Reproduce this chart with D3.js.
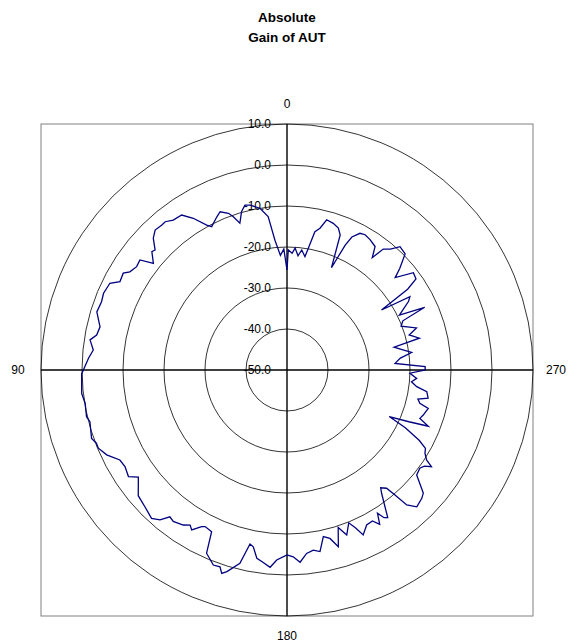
<!DOCTYPE html>
<meta charset="utf-8">
<script src="https://d3js.org/d3.v7.min.js"></script>
<style>
  body { margin: 0; background: #fff; }
  text { font-family: "Liberation Sans", Arial, sans-serif; }
</style>
<div id="page"></div>
<script>

  // Measured angle (deg, counter-clockwise from top) and gain (dB)
  var angleDeg = [
    0, 1.5, 3.3, 5.3, 7, 9.5, 12.6, 14.3, 16, 17.8,
    19.3, 20.5, 22.9, 24.6, 27.7, 29, 31.7, 34.2, 37.2, 39.4,
    40.8, 43.3, 45.4, 47.7, 48.8, 51.4, 53.2, 55.5, 58, 59.4,
    62.1, 63.9, 67.3, 69.8, 73, 77, 79.6, 81.3, 84.1, 86.6,
    89, 91.1, 96.5, 99.4, 103.1, 104.7, 109.3, 111, 112.5, 115.2,
    118.3, 120.8, 123.9, 125.8, 130.2, 133.9, 137.6, 139.7, 141.4, 143.1,
    146.2, 148, 149.2, 151.4, 152.4, 155, 156.3, 159.3, 161.2, 162.2,
    163.4, 166.3, 168, 169.2, 170.9, 172.5, 175.1, 176.9, 180, 181.9,
    183.9, 186.1, 188.3, 190.3, 192.3, 194.3, 196.2, 198, 199.9, 202,
    203.5, 204.8, 207.2, 209.5, 211, 212.3, 213.3, 214.3, 217.5, 218.5,
    220.1, 220.8, 221.6, 223.5, 226.4, 227.9, 231, 233.5, 235, 236.2,
    237.2, 238.9, 240.5, 242, 244, 245.5, 247, 248.3, 250, 251.7,
    254.8, 255.9, 257.5, 258.7, 261.2, 262.7, 264.6, 266.3, 268.5, 270,
    271.4, 273.5, 276, 278, 280, 282, 283.5, 286, 288, 291,
    293, 294.5, 296, 299.4, 300.8, 302.4, 303.8, 305.2, 307.6, 310.5,
    312, 314.5, 317.5, 319.5, 321.5, 322.8, 324.5, 327.5, 330, 331.9,
    334, 335, 335.7, 336.5, 338.5, 340.1, 342.5, 345.2, 346.9, 348.6,
    350.1, 351, 353, 354.5, 356.2, 357.5, 359.4
  ];
  var gainDb = [
    -25.6, -20.5, -22, -18.2, -12.3, -10, -8.8, -8.5, -9.8, -12.4,
    -10.4, -9.2, -8.1, -8.9, -10.5, -9.6, -6.5, -4.3, -4.1, -3.2,
    -3.3, -3.1, -4.2, -6.5, -6.2, -8.3, -5.2, -5.5, -4.8, -3.6,
    -3.9, -1.9, -1.5, -1.8, -1.5, -3.2, -2.8, -1.4, -2.5, -1.5,
    -0.7, 0.1, 0.4, -0.1, 0.2, -0.3, 0.5, -0.2, -0.2, -1.4,
    -3.7, -4.0, -3.4, -5.3, -2.5, -1.9, -1.0, -2.1, -4.2, -3.8,
    -4.5, -5.4, -4.6, -6.5, -6.9, -6.5, -1.2, 0.85, 0.7, 2.1,
    1.3, -1.5, -6.6, -6.1, -3.5, -2.9, -1.7, -3.6, -4.9, -4.4,
    -3.0, -5.0, -5.6, -5.0, -8.4, -7.6, -5.1, -9.6, -7.2, -9.8,
    -8.0, -5.7, -7.5, -7.7, -6.1, -8.7, -6.9, -6.4, -12.1, -13.3,
    -12.3, -9.7, -6.0, -4.0, -4.6, -5.2, -9.3, -9.7, -9.1, -7.6,
    -9.5, -10.7, -11.2, -13.5, -17.9, -22.6, -17.7, -12.9, -15.5, -15.0,
    -14.3, -16.6, -17.3, -14.9, -15.5, -18.1, -19.5, -18.3, -20.0, -16.3,
    -16.3, -23.6, -22.2, -19.3, -21.5, -23.3, -16.8, -19.0, -16.8, -20.2,
    -19.3, -13.1, -19.5, -16.0, -15.1, -22.7, -14.6, -11.5, -11.1, -15.3,
    -13.0, -9.6, -9.2, -11.2, -12.3, -15.6, -13.0, -12.3, -11.9, -12.2,
    -13.9, -16.4, -19.7, -22.8, -14.6, -13.2, -12.5, -12.1, -14.5, -15.6,
    -19.9, -22.0, -20.5, -22.0, -20.2, -21.5, -20.7
  ];

  var ringValues = [-40, -30, -20, -10, 0, 10];
  var ringLabels = ["-50.0", "-40.0", "-30.0", "-20.0", "-10.0", "0.0", "10.0"];
  var ringLabelValues = [-50, -40, -30, -20, -10, 0, 10];
  var directionLabels = ["0", "90", "180", "270"];
  var directionAngles = [0, 90, 180, 270];

  var width = 576, height = 643;
  var cx = 287, cy = 370, outer = 246;

  var svg = d3.select("#page")
    .append("svg")
    .attr("width", width)
    .attr("height", height);

  svg.append("rect").attr("width", width).attr("height", height).attr("fill", "#fff");

  // title
  var title = svg.append("text")
    .attr("text-anchor", "middle")
    .attr("font-size", "13.5px")
    .attr("font-weight", "bold");
  title.append("tspan").attr("x", cx).attr("y", 22).text("Absolute");
  title.append("tspan").attr("x", cx).attr("y", 42).text("Gain of AUT");

  var r = d3.scaleLinear().domain([-50, 10]).range([0, outer]);

  // plot frame
  svg.append("rect")
    .attr("x", cx - outer).attr("y", cy - outer)
    .attr("width", outer * 2).attr("height", outer * 2)
    .attr("fill", "none")
    .attr("stroke", "#808080")
    .attr("stroke-width", 1);

  var g = svg.append("g").attr("transform", "translate(" + cx + "," + cy + ")");

  // rings
  g.selectAll(".ring")
    .data(ringValues)
    .enter()
    .append("circle")
    .attr("r", function (d) { return r(d); })
    .attr("fill", "none")
    .attr("stroke", "#000")
    .attr("stroke-width", 0.8);

  // axes
  g.append("line").attr("x1", 0).attr("x2", 0).attr("y1", -outer).attr("y2", outer)
    .attr("stroke", "#000").attr("stroke-width", 1.4);
  g.append("line").attr("x1", -outer).attr("x2", outer).attr("y1", 0).attr("y2", 0)
    .attr("stroke", "#000").attr("stroke-width", 1.4);

  // ring labels
  g.selectAll(".rlab")
    .data(ringLabelValues)
    .enter()
    .append("text")
    .attr("x", -16)
    .attr("y", function (d) { return -r(d); })
    .attr("dy", "0.35em")
    .attr("text-anchor", "end")
    .attr("font-size", "12px")
    .text(function (d, i) { return ringLabels[i]; });

  // direction labels
  g.selectAll(".dlab")
    .data(directionAngles)
    .enter()
    .append("text")
    .attr("x", function (d) { return -269 * Math.sin(d * Math.PI / 180); })
    .attr("y", function (d) { return -266 * Math.cos(d * Math.PI / 180); })
    .attr("dy", "0.35em")
    .attr("text-anchor", "middle")
    .attr("font-size", "12px")
    .text(function (d, i) { return directionLabels[i]; });

  // gain curve
  var points = angleDeg.map(function (a, i) { return [a, gainDb[i]]; });
  var line = d3.lineRadial()
    .angle(function (d) { return -d[0] * Math.PI / 180; })
    .radius(function (d) { return r(d[1]); })
    .curve(d3.curveLinearClosed);

  g.append("path")
    .datum(points)
    .attr("d", line)
    .attr("fill", "none")
    .attr("stroke", "#000080")
    .attr("stroke-width", 1.3);

</script>
